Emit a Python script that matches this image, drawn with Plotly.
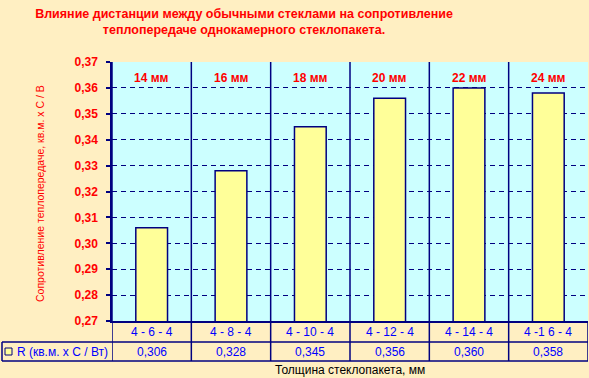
import plotly.graph_objects as go

# ---- data ----
categories = ["4 - 6 - 4", "4 - 8 - 4", "4 - 10 - 4", "4 - 12 - 4", "4 - 14 - 4", "4 -1 6 - 4"]
values = [0.306, 0.328, 0.345, 0.356, 0.360, 0.358]
gap_labels = ["14 мм", "16 мм", "18 мм", "20 мм", "22 мм", "24 мм"]
series_name = "R (кв.м. x C / Вт)"
title_text = "Влияние дистанции между обычными стеклами на сопротивление<br>теплопередаче однокамерного стеклопакета."
y_title = "Сопротивление теплопередаче, кв.м. x C / В"
x_title = "Толщина стеклопакета, мм"

NAVY = "#000080"
RED = "#FF0000"
BLUE = "#0000FF"
FONT = "Liberation Sans, Arial, sans-serif"

W, H = 589, 378
L, R, T, B = 112, 1, 62, 57
plot_h = H - T - B
plot_w = W - L - R


def py(px):  # pixel y -> paper y
    return (H - B - px) / plot_h


def pxx(px):  # pixel x -> paper x
    return (px - L) / plot_w


fig = go.Figure()
fig.add_trace(go.Bar(
    x=list(range(len(categories))), y=values, width=0.4,
    marker=dict(color="#FFFF99", line=dict(color=NAVY, width=1.5)),
    name=series_name, showlegend=False, hoverinfo="skip",
))

shapes = []
n = len(categories)
# vertical separators through plot and table
for i in range(n):
    shapes.append(dict(type="line", xref="x", yref="paper", x0=i - 0.5, x1=i - 0.5,
                       y0=py(361), y1=1, line=dict(color=NAVY, width=1.5), layer="above"))
# right border of table
shapes.append(dict(type="line", xref="x", yref="paper", x0=n - 0.5, x1=n - 0.5,
                   y0=py(361), y1=0, line=dict(color=NAVY, width=1.5)))
# horizontal table lines
for yy in (342, 361):
    shapes.append(dict(type="line", xref="paper", yref="paper", x0=pxx(2), x1=1,
                       y0=py(yy), y1=py(yy), line=dict(color=NAVY, width=1.5)))
# left border of table row 2
shapes.append(dict(type="line", xref="paper", yref="paper", x0=pxx(2), x1=pxx(2),
                   y0=py(342), y1=py(361), line=dict(color=NAVY, width=1.5)))
# legend key square
shapes.append(dict(type="rect", xref="paper", yref="paper", x0=pxx(5), x1=pxx(12),
                   y0=py(355), y1=py(348), fillcolor="#FFFF99", line=dict(color=NAVY, width=1)))

annotations = []
for i, (c, v, g) in enumerate(zip(categories, values, gap_labels)):
    annotations.append(dict(x=i, xref="x", y=py(331.5), yref="paper", text=c, showarrow=False,
                            font=dict(family=FONT, size=12, color=BLUE), yanchor="middle"))
    annotations.append(dict(x=i, xref="x", y=py(351.5), yref="paper",
                            text=f"{v:.3f}".replace(".", ","), showarrow=False,
                            font=dict(family=FONT, size=12, color=BLUE), yanchor="middle"))
    annotations.append(dict(x=i, xref="x", y=py(78), yref="paper", text="<b>" + g + "</b>",
                            showarrow=False, font=dict(family=FONT, size=12, color=RED),
                            yanchor="middle"))
annotations.append(dict(x=pxx(15), xref="paper", y=py(351.5), yref="paper", text=series_name,
                        showarrow=False, xanchor="left", yanchor="middle",
                        font=dict(family=FONT, size=12, color=BLUE)))
annotations.append(dict(x=pxx(40), xref="paper", y=py(194), yref="paper", text=y_title,
                        showarrow=False, textangle=-90, xanchor="center", yanchor="middle",
                        font=dict(family=FONT, size=10.5, color=RED)))
annotations.append(dict(x=0.5, xref="paper", y=py(370), yref="paper", text=x_title,
                        showarrow=False, xanchor="center", yanchor="middle",
                        font=dict(family=FONT, size=12, color="#000000")))

fig.update_layout(
    width=W, height=H,
    margin=dict(l=L, r=R, t=T, b=B, pad=0),
    paper_bgcolor="#FFEFC2",
    plot_bgcolor="#CCFFFF",
    separators=", ",
    title=dict(text="<b>" + title_text + "</b>", x=244 / W, xref="container", xanchor="center",
               y=1 - 17.5 / H, yref="container", yanchor="middle",
               font=dict(family=FONT, size=12.5, color=RED)),
    xaxis=dict(range=[-0.5, n - 0.5], showticklabels=False, showgrid=False, zeroline=False,
               showline=True, linecolor=NAVY, linewidth=1.5, ticks="", fixedrange=True),
    yaxis=dict(range=[0.27, 0.37], dtick=0.01, tick0=0.27, tickformat=".2f",
               showgrid=True, gridcolor=NAVY, gridwidth=1, griddash="5px,4px",
               zeroline=False, showline=True, linecolor=NAVY, linewidth=1.5,
               ticks="outside", ticklen=4, tickcolor=NAVY, tickwidth=1.5,
               ticklabelstandoff=6, fixedrange=True,
               tickfont=dict(family=FONT, size=12, color=RED, weight="bold")),
    shapes=shapes,
    annotations=annotations,
    showlegend=False,
)

fig.write_html("out.html", config={"displayModeBar": False},
               post_script="document.body.style.margin='0';document.body.style.background='#FFEFC2';")
